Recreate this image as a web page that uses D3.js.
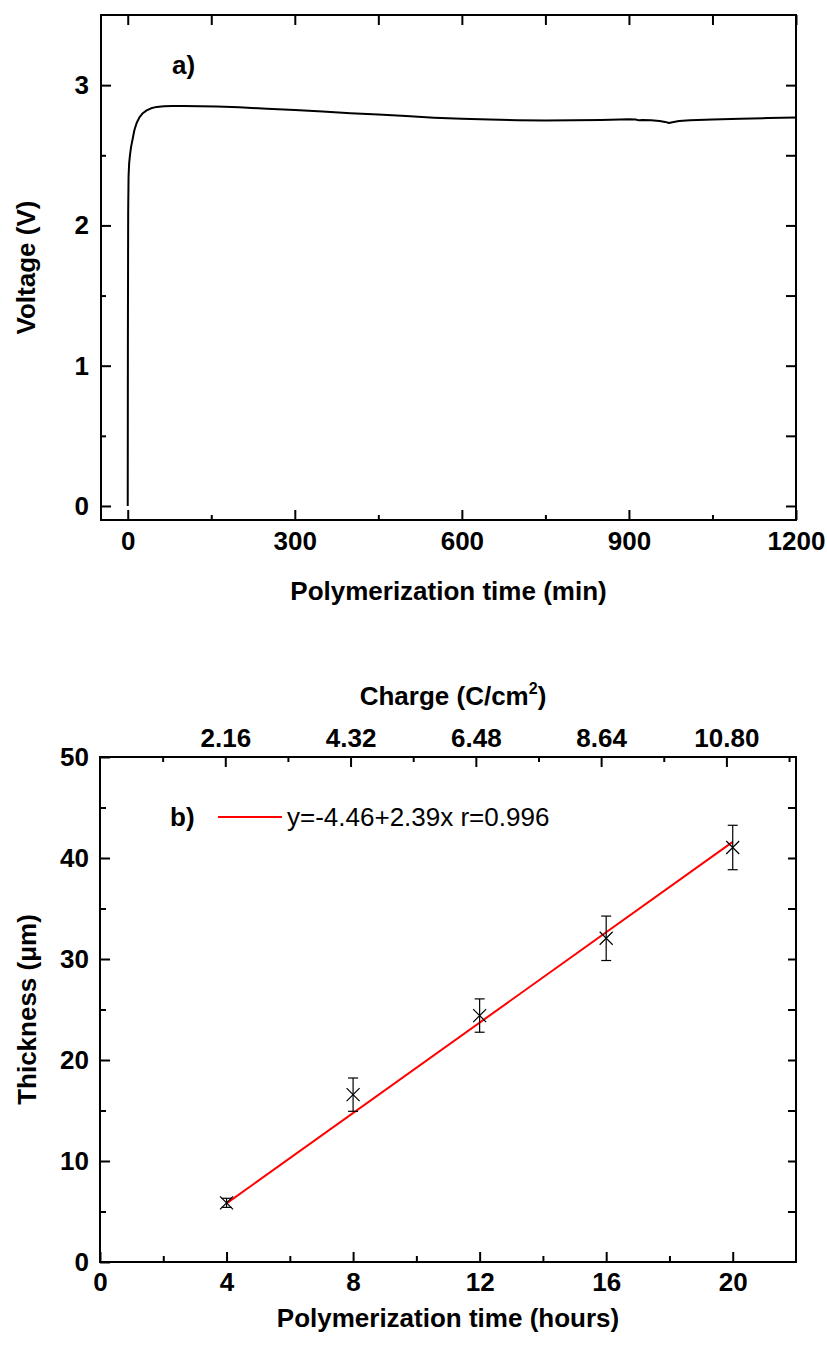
<!DOCTYPE html>
<html>
<head>
<meta charset="utf-8">
<script src="https://cdn.jsdelivr.net/npm/d3@7"></script>
<style>
  body { margin: 0; background: #fff; }
  svg text { font-family: "Liberation Sans", Arial, sans-serif; }
</style>
</head>
<body>
<div class="box"></div>
<script>
// DATA - panel a) voltage vs polymerization time
const timeMin = [0, 0.3, 0.8, 1.5, 2.5, 4, 6, 9, 12, 16, 21, 27, 34, 42, 52, 65, 80, 100, 130, 160,
                 200, 250, 300, 350, 400, 450, 500, 550, 600, 650, 700, 750, 800, 850, 900,
                 912, 918, 925, 940, 955, 965, 972, 978, 990, 1010, 1050, 1100, 1150, 1200];
const voltage = [0, 1.2, 2.1, 2.35, 2.44, 2.5, 2.56, 2.62, 2.68, 2.73, 2.77, 2.8, 2.82, 2.835, 2.845, 2.85, 2.852, 2.852, 2.85, 2.848,
                 2.842, 2.832, 2.822, 2.812, 2.8, 2.79, 2.78, 2.768, 2.76, 2.755, 2.75, 2.748, 2.749, 2.752, 2.757,
                 2.755, 2.749, 2.752, 2.75, 2.745, 2.738, 2.73, 2.736, 2.745, 2.75, 2.755, 2.76, 2.765, 2.77];

// DATA - panel b) thickness vs polymerization time
const hours = [4, 8, 12, 16, 20];
const thickness = [5.86, 16.57, 24.4, 32.05, 41.04];
const thicknessErr = [0.45, 1.65, 1.65, 2.2, 2.2];
const fitHours = [4, 20];
const fitThickness = [5.8, 41.6];
const chargeTicks = [2.16, 4.32, 6.48, 8.64, 10.80];
const legendText = "y=-4.46+2.39x r=0.996";

const w = 827;
const h = 1347;
const font = 26;

const svg = d3.select(".box")
              .append("svg")
              .attr("width", w)
              .attr("height", h);

// helper to style an axis group: bold labels, thick ticks, no domain path
function styleAxis(g) {
    g.select(".domain").remove();
    g.selectAll(".tick line").attr("stroke", "#000").attr("stroke-width", 2);
    g.selectAll(".tick text")
        .attr("fill", "#000")
        .style("font-size", font + "px")
        .style("font-weight", "bold");
}

// ---------------- PANEL A ----------------
const a = { left: 101, right: 796, top: 15, bottom: 520 };

const xA = d3.scaleLinear().domain([-48, 1200]).range([a.left, a.right]);
const yA = d3.scaleLinear().domain([-0.1, 3.5]).range([a.bottom, a.top]);

// minor ticks
svg.append("g")
    .attr("transform", "translate(0," + a.bottom + ")")
    .call(d3.axisBottom(xA).tickValues([150, 450, 750, 1050]).tickSize(-5).tickFormat(""))
    .call(styleAxis);
svg.append("g")
    .attr("transform", "translate(" + a.left + ",0)")
    .call(d3.axisLeft(yA).tickValues([0.5, 1.5, 2.5]).tickSize(-5).tickFormat(""))
    .call(styleAxis);

// major ticks + labels
svg.append("g")
    .attr("transform", "translate(0," + a.bottom + ")")
    .call(d3.axisBottom(xA).tickValues([0, 300, 600, 900, 1200]).tickSize(-10).tickPadding(12).tickFormat(d3.format("d")))
    .call(styleAxis);
svg.append("g")
    .attr("transform", "translate(" + a.left + ",0)")
    .call(d3.axisLeft(yA).tickValues([0, 1, 2, 3]).tickSize(-10).tickPadding(12).tickFormat(d3.format("d")))
    .call(styleAxis);

// mirrored ticks on top and right
svg.append("g")
    .attr("transform", "translate(0," + a.top + ")")
    .call(d3.axisTop(xA).tickValues(d3.range(0, 1201, 150)).tickSize(-10).tickFormat(""))
    .call(styleAxis);
svg.append("g")
    .attr("transform", "translate(" + a.right + ",0)")
    .call(d3.axisRight(yA).tickValues(d3.range(0, 3.01, 0.5)).tickSize(-10).tickFormat(""))
    .call(styleAxis);

svg.append("rect")
    .attr("x", a.left).attr("y", a.top)
    .attr("width", a.right - a.left).attr("height", a.bottom - a.top)
    .attr("fill", "none").attr("stroke", "#000").attr("stroke-width", 2);

const lineA = d3.line()
    .x((d, i) => xA(timeMin[i]))
    .y(d => yA(d));

svg.append("path")
    .datum(voltage)
    .attr("d", lineA)
    .attr("fill", "none")
    .attr("stroke", "#000")
    .attr("stroke-width", 2)
    .attr("stroke-linejoin", "round");

svg.append("text")
    .attr("x", 172).attr("y", 74)
    .style("font-size", font + "px").style("font-weight", "bold")
    .text("a)");

svg.append("text")
    .attr("x", (a.left + a.right) / 2).attr("y", 600)
    .attr("text-anchor", "middle")
    .style("font-size", font + "px").style("font-weight", "bold")
    .text("Polymerization time (min)");

svg.append("text")
    .attr("transform", "rotate(-90)")
    .attr("x", -(a.top + a.bottom) / 2).attr("y", 35)
    .attr("text-anchor", "middle")
    .style("font-size", font + "px").style("font-weight", "bold")
    .text("Voltage (V)");

// ---------------- PANEL B ----------------
const b = { left: 100, right: 796, top: 757, bottom: 1262 };

const xB = d3.scaleLinear().domain([0, 22]).range([b.left, b.right]);
const yB = d3.scaleLinear().domain([0, 50]).range([b.bottom, b.top]);
const xCharge = d3.scaleLinear().domain([0, 12]).range([b.left, b.right]);

// minor ticks
svg.append("g")
    .attr("transform", "translate(0," + b.bottom + ")")
    .call(d3.axisBottom(xB).tickValues([2, 6, 10, 14, 18]).tickSize(-6).tickFormat(""))
    .call(styleAxis);
svg.append("g")
    .attr("transform", "translate(" + b.left + ",0)")
    .call(d3.axisLeft(yB).tickValues([5, 15, 25, 35, 45]).tickSize(-6).tickFormat(""))
    .call(styleAxis);
svg.append("g")
    .attr("transform", "translate(0," + b.top + ")")
    .call(d3.axisTop(xCharge).tickValues(chargeTicks.map(d => d - 1.08).concat([11.88])).tickSize(-5).tickFormat(""))
    .call(styleAxis);

// major ticks + labels
svg.append("g")
    .attr("transform", "translate(0," + b.bottom + ")")
    .call(d3.axisBottom(xB).tickValues([0, 4, 8, 12, 16, 20]).tickSize(-10).tickPadding(11))
    .call(styleAxis);
svg.append("g")
    .attr("transform", "translate(" + b.left + ",0)")
    .call(d3.axisLeft(yB).tickValues([0, 10, 20, 30, 40, 50]).tickSize(-10).tickPadding(11))
    .call(styleAxis);
svg.append("g")
    .attr("transform", "translate(0," + b.top + ")")
    .call(d3.axisTop(xCharge).tickValues(chargeTicks).tickSize(-10).tickPadding(10).tickFormat(d3.format(".2f")))
    .call(styleAxis);

// mirrored ticks on the right
svg.append("g")
    .attr("transform", "translate(" + b.right + ",0)")
    .call(d3.axisRight(yB).tickValues(d3.range(5, 50, 5)).tickSize(-8).tickFormat(""))
    .call(styleAxis);

svg.append("rect")
    .attr("x", b.left).attr("y", b.top)
    .attr("width", b.right - b.left).attr("height", b.bottom - b.top)
    .attr("fill", "none").attr("stroke", "#000").attr("stroke-width", 2);

// fit line
svg.append("line")
    .attr("x1", xB(fitHours[0])).attr("y1", yB(fitThickness[0]))
    .attr("x2", xB(fitHours[1])).attr("y2", yB(fitThickness[1]))
    .attr("stroke", "#ff0000")
    .attr("stroke-width", 2);

// error bars
const errs = svg.append("g").attr("stroke", "#000").attr("stroke-width", 1.2);
hours.forEach(function(hr, i) {
    const x = xB(hr);
    const y1 = yB(thickness[i] + thicknessErr[i]);
    const y2 = yB(thickness[i] - thicknessErr[i]);
    errs.append("line").attr("x1", x).attr("x2", x).attr("y1", y1).attr("y2", y2);
    errs.append("line").attr("x1", x - 5).attr("x2", x + 5).attr("y1", y1).attr("y2", y1);
    errs.append("line").attr("x1", x - 5).attr("x2", x + 5).attr("y1", y2).attr("y2", y2);
});

// cross markers
svg.selectAll("path.mark")
    .data(hours)
    .enter()
    .append("path")
    .attr("class", "mark")
    .attr("d", function(d, i) {
        const x = xB(d), y = yB(thickness[i]), s = 6.5;
        return "M" + (x - s) + "," + (y - s) + "L" + (x + s) + "," + (y + s) +
               "M" + (x - s) + "," + (y + s) + "L" + (x + s) + "," + (y - s);
    })
    .attr("fill", "none")
    .attr("stroke", "#000")
    .attr("stroke-width", 1.2);

// legend
svg.append("text")
    .attr("x", 170).attr("y", 826)
    .style("font-size", font + "px").style("font-weight", "bold")
    .text("b)");
svg.append("line")
    .attr("x1", 218).attr("x2", 282).attr("y1", 817).attr("y2", 817)
    .attr("stroke", "#ff0000").attr("stroke-width", 2);
svg.append("text")
    .attr("x", 287).attr("y", 826)
    .style("font-size", font + "px")
    .text(legendText);

// axis titles
svg.append("text")
    .attr("x", (b.left + b.right) / 2).attr("y", 1327)
    .attr("text-anchor", "middle")
    .style("font-size", font + "px").style("font-weight", "bold")
    .text("Polymerization time (hours)");

svg.append("text")
    .attr("transform", "rotate(-90)")
    .attr("x", -(b.top + b.bottom) / 2).attr("y", 36)
    .attr("text-anchor", "middle")
    .style("font-size", font + "px").style("font-weight", "bold")
    .text("Thickness (μm)");

const chargeTitle = svg.append("text")
    .attr("x", (b.left + b.right) / 2 + 5).attr("y", 705)
    .attr("text-anchor", "middle")
    .style("font-size", font + "px").style("font-weight", "bold");
chargeTitle.append("tspan").text("Charge (C/cm");
chargeTitle.append("tspan").attr("dy", -11).style("font-size", "16px").text("2");
chargeTitle.append("tspan").attr("dy", 11).text(")");
</script>
</body>
</html>
